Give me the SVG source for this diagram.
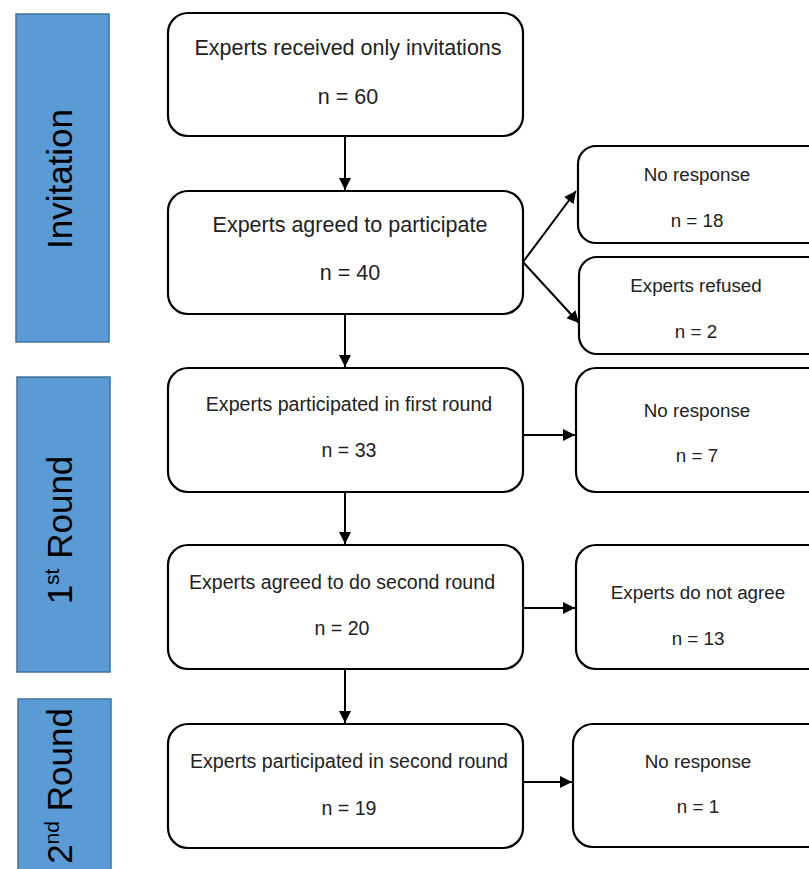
<svg xmlns="http://www.w3.org/2000/svg" width="809" height="869" viewBox="0 0 809 869">
<style>
.band{fill:#5b9bd5;stroke:#41719c;stroke-width:1.5}
.bandt{font-family:"Liberation Sans",Arial,sans-serif;font-size:35px;fill:#000;text-anchor:middle}
.box{fill:#fff;stroke:#000;stroke-width:2.2}
.t1{font-family:"Liberation Sans",Arial,sans-serif;font-size:21.5px;fill:#222;text-anchor:middle}
.t2{font-family:"Liberation Sans",Arial,sans-serif;font-size:19.6px;fill:#222;text-anchor:middle}
.t3{font-family:"Liberation Sans",Arial,sans-serif;font-size:18.8px;fill:#222;text-anchor:middle}
.c{stroke:#000;stroke-width:2;fill:none;marker-end:url(#ah)}
</style>
<defs>
<marker id="ah" viewBox="0 0 10 10" refX="10" refY="5" markerWidth="6" markerHeight="6" markerUnits="strokeWidth" orient="auto">
<path d="M0,0 L10,5 L0,10 Z" fill="#000"/>
</marker>
</defs>
<rect width="809" height="869" fill="#fff"/>
<g id="band-invitation">
<rect class="band" x="16" y="14" width="93" height="328"/>
<text class="bandt" transform="translate(72,179) rotate(-90)">Invitation</text>
</g>
<g id="band-round1">
<rect class="band" x="17" y="377" width="93" height="295"/>
<text class="bandt" transform="translate(72,530) rotate(-90)">1<tspan font-size="21" dy="-13">st</tspan><tspan dy="13"> Round</tspan></text>
</g>
<g id="band-round2">
<rect class="band" x="18" y="699" width="93" height="200"/>
<text class="bandt" transform="translate(72,786) rotate(-90)">2<tspan font-size="21" dy="-13">nd</tspan><tspan dy="13"> Round</tspan></text>
</g>
<g id="n1">
<rect class="box" x="168" y="13" width="355" height="123" rx="20"/>
<text class="t1" x="348" y="55">Experts received only invitations</text>
<text class="t1" x="348" y="104">n = 60</text>
</g>
<g id="n2">
<rect class="box" x="168" y="191" width="355" height="123" rx="20"/>
<text class="t1" x="350" y="232">Experts agreed to participate</text>
<text class="t1" x="350" y="280">n = 40</text>
</g>
<g id="n3">
<rect class="box" x="168" y="368" width="355" height="124" rx="20"/>
<text class="t2" x="349" y="411">Experts participated in first round</text>
<text class="t2" x="349" y="457">n = 33</text>
</g>
<g id="n4">
<rect class="box" x="168" y="545" width="355" height="124" rx="20"/>
<text class="t2" x="342" y="589">Experts agreed to do second round</text>
<text class="t2" x="342" y="635">n = 20</text>
</g>
<g id="n5">
<rect class="box" x="168" y="724" width="355" height="124" rx="20"/>
<text class="t2" x="349" y="768">Experts participated in second round</text>
<text class="t2" x="349" y="815">n = 19</text>
</g>
<g id="r1">
<rect class="box" x="578" y="146" width="260" height="97" rx="18"/>
<text class="t3" x="697" y="181">No response</text>
<text class="t3" x="697" y="227">n = 18</text>
</g>
<g id="r2">
<rect class="box" x="579" y="257" width="260" height="97" rx="18"/>
<text class="t3" x="696" y="292">Experts refused</text>
<text class="t3" x="696" y="338">n = 2</text>
</g>
<g id="r3">
<rect class="box" x="576" y="368" width="260" height="124" rx="20"/>
<text class="t3" x="697" y="417">No response</text>
<text class="t3" x="697" y="462">n = 7</text>
</g>
<g id="r4">
<rect class="box" x="576" y="545" width="260" height="124" rx="20"/>
<text class="t3" x="698" y="599">Experts do not agree</text>
<text class="t3" x="698" y="645">n = 13</text>
</g>
<g id="r5">
<rect class="box" x="573" y="724" width="262" height="123" rx="20"/>
<text class="t3" x="698" y="768">No response</text>
<text class="t3" x="698" y="813">n = 1</text>
</g>
<g id="connectors">
<line class="c" x1="345" y1="136" x2="345" y2="190"/>
<line class="c" x1="345" y1="314" x2="345" y2="367"/>
<line class="c" x1="345" y1="492" x2="345" y2="544"/>
<line class="c" x1="345" y1="669" x2="345" y2="723"/>
<line class="c" x1="523" y1="262" x2="576" y2="191"/>
<line class="c" x1="523" y1="262" x2="579" y2="323"/>
<line class="c" x1="523" y1="435" x2="575" y2="435"/>
<line class="c" x1="523" y1="608" x2="575" y2="608"/>
<line class="c" x1="523" y1="782" x2="572" y2="782"/>
</g>
</svg>
